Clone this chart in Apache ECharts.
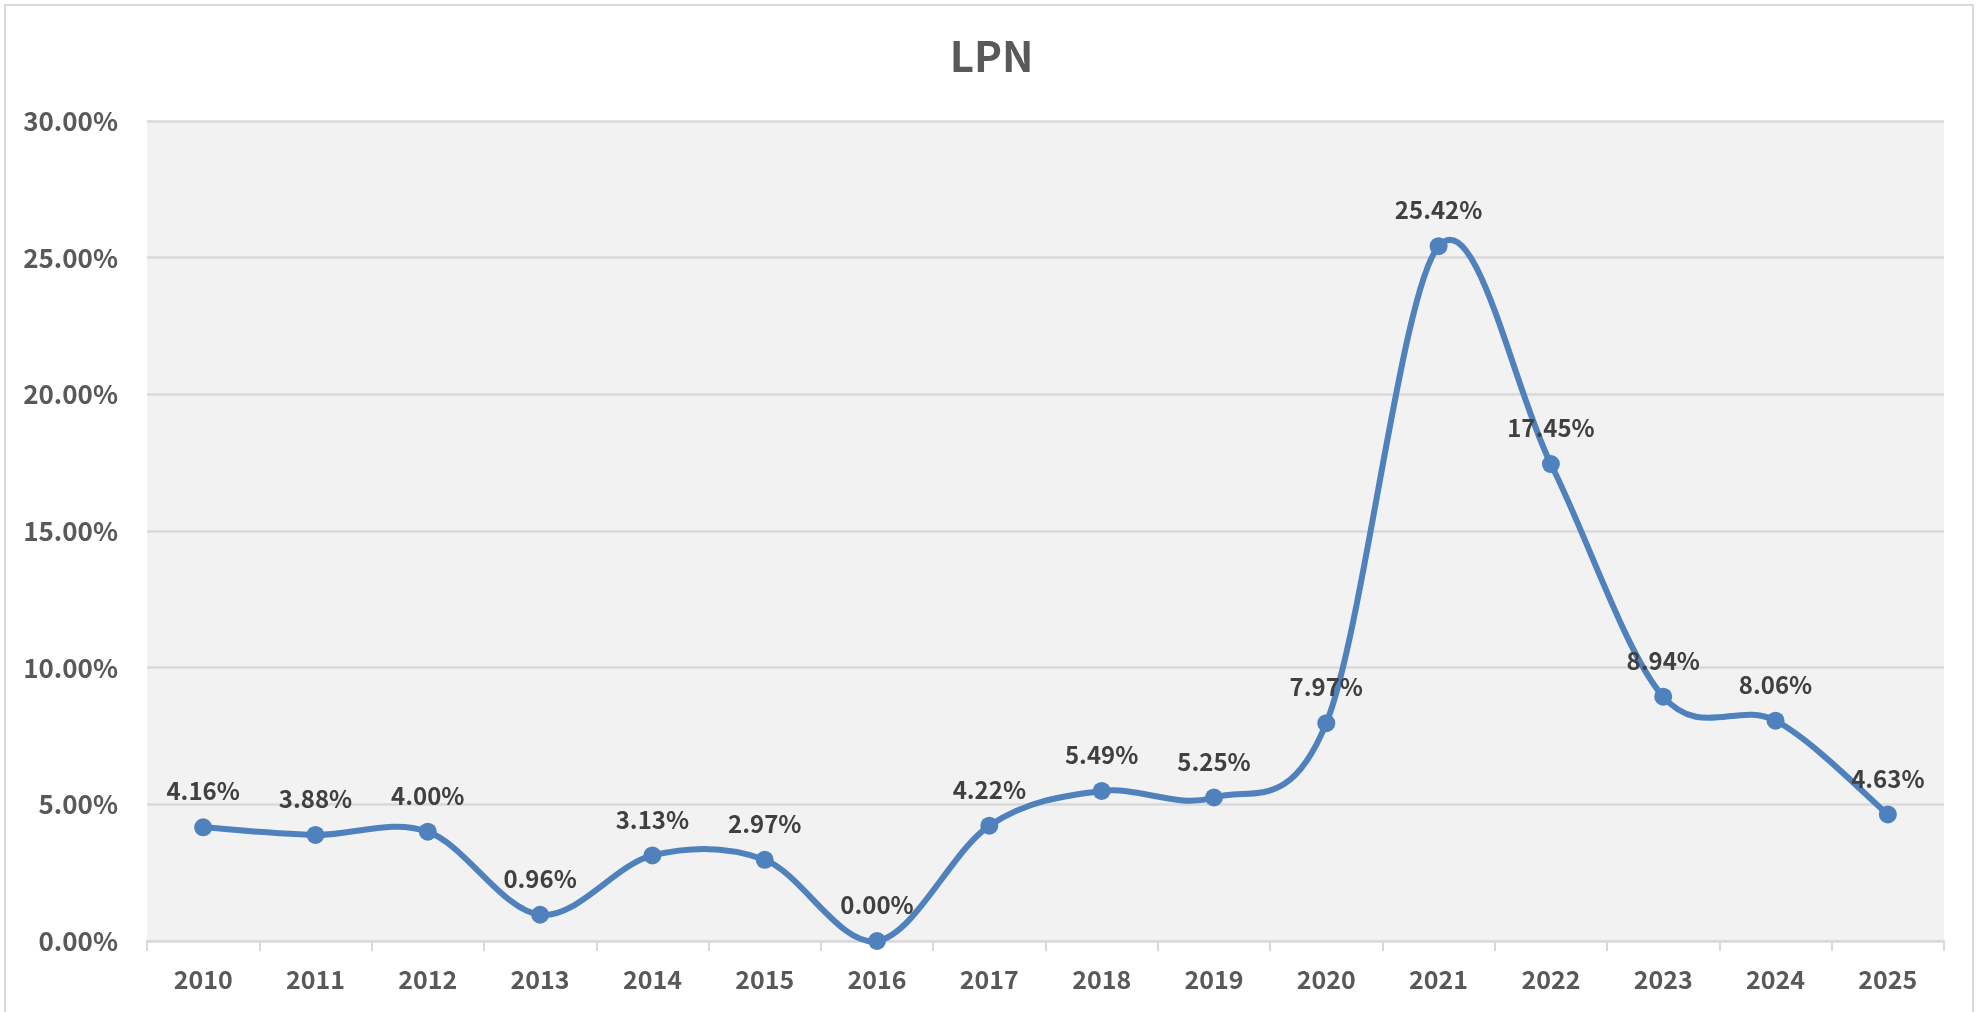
<!DOCTYPE html>
<html>
<head>
<meta charset="utf-8">
<title>LPN</title>
<script src="https://cdn.jsdelivr.net/npm/echarts@6/dist/echarts.min.js"></script>
<style>
  html, body { margin: 0; padding: 0; background: #fff; }
  #chart { width: 1983px; height: 1012px; }
</style>
</head>
<body>
<div id="chart"></div>
<script>
// data
const years = ["2010", "2011", "2012", "2013", "2014", "2015", "2016", "2017",
  "2018", "2019", "2020", "2021", "2022", "2023", "2024", "2025"];
const lpnValues = [4.16, 3.88, 4.00, 0.96, 3.13, 2.97, 0.00, 4.22,
  5.49, 5.25, 7.97, 25.42, 17.45, 8.94, 8.06, 4.63];
const yTicks = [0, 5, 10, 15, 20, 25, 30];

const font = "'Noto Sans CJK SC', 'Noto Sans', sans-serif";
const lineColor = "#4f81bd";
const myChart = echarts.init(document.getElementById("chart"));

// Excel-like smoothed line: catmull-rom segment between item i and i+1
const renderSegment = (params, api) => {
  const i = params.dataIndex;
  const n = lpnValues.length;
  if (i >= n - 1) return null;
  const pt = (k) => {
    const j = Math.max(0, Math.min(n - 1, k));
    return api.coord([j, lpnValues[j]]);
  };
  const p0 = pt(i - 1);
  const p1 = pt(i);
  const p2 = pt(i + 1);
  const p3 = pt(i + 2);
  return {
    type: "bezierCurve",
    shape: {
      x1: p1[0], y1: p1[1],
      x2: p2[0], y2: p2[1],
      cpx1: p1[0] + (p2[0] - p0[0]) / 6,
      cpy1: p1[1] + (p2[1] - p0[1]) / 6,
      cpx2: p2[0] - (p3[0] - p1[0]) / 6,
      cpy2: p2[1] - (p3[1] - p1[1]) / 6,
    },
    style: { fill: null, stroke: lineColor, lineWidth: 6, lineCap: "round" },
  };
};

const option = {
  backgroundColor: "#fff",
  animation: false,
  title: {
    text: "LPN",
    left: "center",
    top: 30,
    textStyle: { fontFamily: font, fontSize: 42, fontWeight: "bold", color: "#595959" },
  },
  graphic: [
    {
      type: "rect",
      shape: { x: 5, y: 5, width: 1968, height: 1030 },
      style: { fill: "none", stroke: "#d9d9d9", lineWidth: 2 },
      silent: true,
    },
  ],
  grid: {
    left: 147,
    right: 39,
    top: 121,
    bottom: 71,
    show: true,
    backgroundColor: "#f2f2f2",
    borderWidth: 0,
  },
  xAxis: {
    type: "category",
    data: years,
    boundaryGap: true,
    axisLine: { lineStyle: { color: "#d9d9d9", width: 2 } },
    axisTick: { show: true, length: 10, lineStyle: { color: "#d9d9d9", width: 2 } },
    axisLabel: {
      margin: 26,
      fontFamily: font,
      fontSize: 25,
      fontWeight: "bold",
      color: "#595959",
    },
  },
  yAxis: {
    type: "value",
    min: yTicks[0],
    max: yTicks[yTicks.length - 1],
    interval: 5,
    axisLine: { show: false },
    axisTick: { show: false },
    splitLine: { lineStyle: { color: "#d9d9d9", width: 2.5 } },
    axisLabel: {
      margin: 29,
      fontFamily: font,
      fontSize: 26,
      fontWeight: "bold",
      color: "#595959",
      formatter: (v) => v.toFixed(2) + "%",
    },
  },
  series: [
    {
      name: "LPN line",
      type: "custom",
      renderItem: renderSegment,
      data: lpnValues.map((v, i) => [i, v]),
      clip: false,
      z: 2,
    },
    {
      name: "LPN",
      type: "scatter",
      data: lpnValues.map((v, i) => [i, v]),
      symbol: "circle",
      symbolSize: 18,
      itemStyle: { color: lineColor, opacity: 1 },
      z: 3,
      label: {
        show: true,
        position: "top",
        distance: 15,
        fontFamily: font,
        fontSize: 24,
        fontWeight: "bold",
        color: "#404040",
        formatter: (p) => p.value[1].toFixed(2) + "%",
      },
    },
  ],
};

myChart.setOption(option);
</script>
</body>
</html>
